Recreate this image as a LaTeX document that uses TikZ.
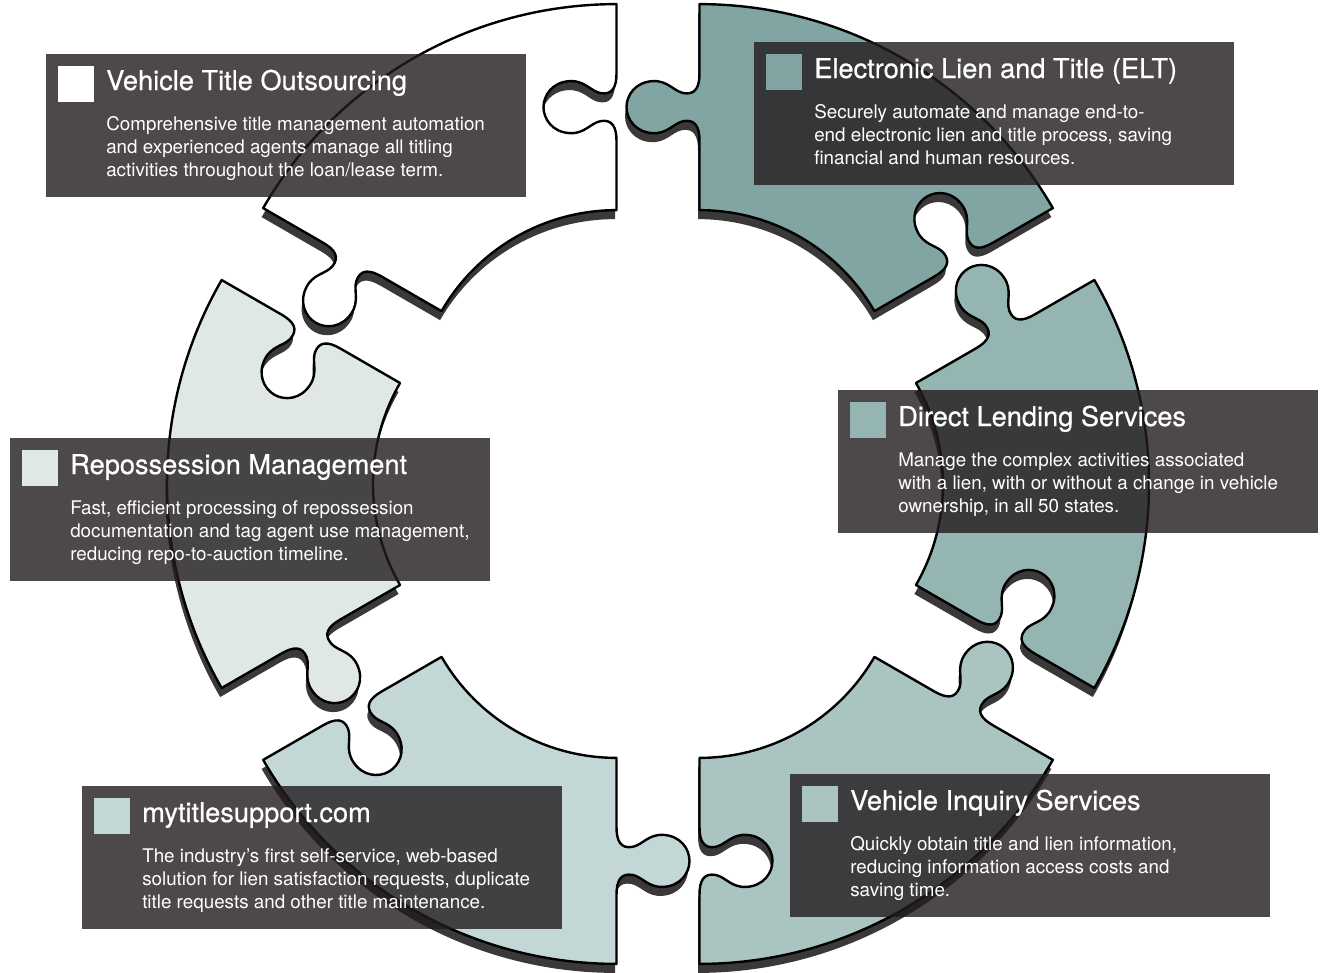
\documentclass[tikz,border=0pt]{standalone}
\usepackage{fontspec}
\setmainfont{TeX Gyre Heros}
\newfontfamily\headfont[FakeBold=0.6]{TeX Gyre Heros}

\definecolor{eltteal}{HTML}{80A5A2}
\definecolor{dlteal}{HTML}{94B5B2}
\definecolor{viteal}{HTML}{AAC4C2}
\definecolor{mtsteal}{HTML}{C4D7D7}
\definecolor{repteal}{HTML}{DFE8E6}
\definecolor{boxgray}{RGB}{33,27,29}
\definecolor{shadowgray}{HTML}{3A3839}

% one ring piece, socket on the +30 edge, knob on the -30 edge
\newcommand{\piecepath}{(-30:408) arc[start angle=-30, end angle=30, radius=408]
  -- ([rotate=30]339,0)
  .. controls ([rotate=30]325,0) and ([rotate=30]317,-4) .. ([rotate=30]319,-16)
  .. controls ([rotate=30]321,-26) and ([rotate=30]332,-32) .. ([rotate=30]331,-47)
  .. controls ([rotate=30]330,-64) and ([rotate=30]317,-73) .. ([rotate=30]305,-73)
  .. controls ([rotate=30]293,-73) and ([rotate=30]280,-64) .. ([rotate=30]279,-47)
  .. controls ([rotate=30]278,-32) and ([rotate=30]289,-26) .. ([rotate=30]291,-16)
  .. controls ([rotate=30]293,-4) and ([rotate=30]285,0) .. ([rotate=30]271,0)
  -- (30:202) arc[start angle=30, end angle=-30, radius=202]
  -- ([rotate=-30]271,0)
  .. controls ([rotate=-30]285,0) and ([rotate=-30]293,-4) .. ([rotate=-30]291,-16)
  .. controls ([rotate=-30]289,-26) and ([rotate=-30]278,-32) .. ([rotate=-30]279,-47)
  .. controls ([rotate=-30]280,-64) and ([rotate=-30]293,-73) .. ([rotate=-30]305,-73)
  .. controls ([rotate=-30]317,-73) and ([rotate=-30]330,-64) .. ([rotate=-30]331,-47)
  .. controls ([rotate=-30]332,-32) and ([rotate=-30]321,-26) .. ([rotate=-30]319,-16)
  .. controls ([rotate=-30]317,-4) and ([rotate=-30]325,0) .. ([rotate=-30]339,0)
  -- cycle}

\begin{document}
\begin{tikzpicture}[x=0.75pt,y=0.75pt,yscale=-1,xscale=1,
  outline/.style={draw=black, line width=1.8, line join=round},
  infobox/.style={fill=boxgray, fill opacity=0.8, inner sep=0, anchor=north west, minimum width=360pt, minimum height=107.25pt},
  swatch/.style={inner sep=0, anchor=north west, minimum size=27pt},
  headline/.style={text=white, inner sep=0, anchor=base west, font=\headfont\fontsize{20.4}{24}\selectfont},
  blurb/.style={text=white, inner sep=0, anchor=base west, align=left, font=\fontsize{14.1}{16.9}\selectfont}]

  \useasboundingbox (0,0) rectangle (1320,972);
  \fill[white] (0,0) rectangle (1320,972);

  % shadows first, then the six pieces
  \foreach \k in {0,...,5}
    \fill[shadowgray, shift={(656.5,493)}, rotate=60*\k, shift={(83,0)}] \piecepath;
  \foreach \k/\col in {0/dlteal,1/viteal,2/mtsteal,3/repteal,4/white,5/eltteal}
    \filldraw[outline, fill=\col, shift={(658,484)}, rotate=60*\k, shift={(83,0)}] \piecepath;

  % Vehicle Title Outsourcing
  \node[infobox] (vto) at (46,54) {};
  \node[swatch, fill=white] (vto-sq) at ([shift={(12,12)}]vto.north west) {};
  \node[headline] (vto-head) at ([shift={(60,36)}]vto.north west) {Vehicle Title Outsourcing};
  \node[blurb] (vto-text) at ([shift={(60,122)}]vto.north west) {Comprehensive title management automation\\and experienced agents manage all titling\\activities throughout the loan/lease term.};

  % Electronic Lien and Title
  \node[infobox] (elt) at (754,42) {};
  \node[swatch, fill=eltteal] (elt-sq) at ([shift={(12,12)}]elt.north west) {};
  \node[headline] (elt-head) at ([shift={(60,36)}]elt.north west) {Electronic Lien and Title (ELT)};
  \node[blurb] (elt-text) at ([shift={(60,122)}]elt.north west) {Securely automate and manage end-to-\\end electronic lien and title process, saving\\financial and human resources.};

  % Direct Lending Services
  \node[infobox] (dl) at (838,390) {};
  \node[swatch, fill=dlteal] (dl-sq) at ([shift={(12,12)}]dl.north west) {};
  \node[headline] (dl-head) at ([shift={(60,36)}]dl.north west) {Direct Lending Services};
  \node[blurb] (dl-text) at ([shift={(60,122)}]dl.north west) {Manage the complex activities associated\\with a lien, with or without a change in vehicle\\ownership, in all 50 states.};

  % Repossession Management
  \node[infobox] (rep) at (10,438) {};
  \node[swatch, fill=repteal] (rep-sq) at ([shift={(12,12)}]rep.north west) {};
  \node[headline] (rep-head) at ([shift={(60,36)}]rep.north west) {Repossession Management};
  \node[blurb] (rep-text) at ([shift={(60,122)}]rep.north west) {Fast, efficient processing of repossession\\documentation and tag agent use management,\\reducing repo-to-auction timeline.};

  % mytitlesupport.com
  \node[infobox] (mts) at (82,786) {};
  \node[swatch, fill=mtsteal] (mts-sq) at ([shift={(12,12)}]mts.north west) {};
  \node[headline] (mts-head) at ([shift={(60,36)}]mts.north west) {mytitlesupport.com};
  \node[blurb] (mts-text) at ([shift={(60,122)}]mts.north west) {The industry’s first self-service, web-based\\solution for lien satisfaction requests, duplicate\\title requests and other title maintenance.};

  % Vehicle Inquiry Services
  \node[infobox] (vi) at (790,774) {};
  \node[swatch, fill=viteal] (vi-sq) at ([shift={(12,12)}]vi.north west) {};
  \node[headline] (vi-head) at ([shift={(60,36)}]vi.north west) {Vehicle Inquiry Services};
  \node[blurb] (vi-text) at ([shift={(60,122)}]vi.north west) {Quickly obtain title and lien information,\\reducing information access costs and\\saving time.};
\end{tikzpicture}
\end{document}
